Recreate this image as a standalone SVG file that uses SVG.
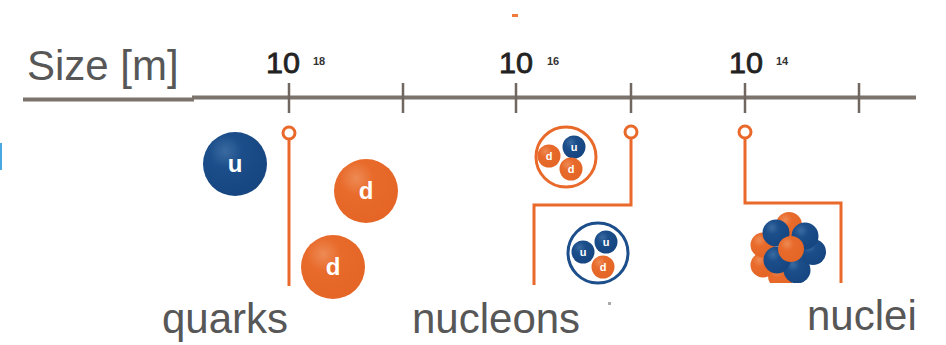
<svg xmlns="http://www.w3.org/2000/svg" width="946" height="345" viewBox="0 0 946 345">
  <defs>
    <radialGradient id="gBlue" cx="0.35" cy="0.3" r="0.75">
      <stop offset="0" stop-color="#3a6aa0"/>
      <stop offset="0.35" stop-color="#1b4e8a"/>
      <stop offset="1" stop-color="#164580"/>
    </radialGradient>
    <radialGradient id="gOrange" cx="0.35" cy="0.3" r="0.75">
      <stop offset="0" stop-color="#ee8a55"/>
      <stop offset="0.35" stop-color="#e86b2b"/>
      <stop offset="1" stop-color="#e46526"/>
    </radialGradient>
    <clipPath id="clipLow">
      <rect x="0" y="0" width="946" height="283"/>
    </clipPath>
  </defs>
  <style>
    .axis { stroke: #7b736c; stroke-width: 4; fill: none; }
    .tick { stroke: #6f6760; stroke-width: 2.5; fill: none; }
    .lead { stroke: #e8692a; stroke-width: 3; fill: none; }
    .marker { fill: #ffffff; stroke: #e8692a; stroke-width: 3; }
    .blue { fill: url(#gBlue); }
    .orange { fill: url(#gOrange); }
    .q { font-family: "Liberation Sans", Arial, sans-serif; font-weight: bold; fill: #ffffff; text-anchor: middle; }
    .lbl { font-family: "Liberation Sans", Arial, sans-serif; fill: #575757; }
    .tl { font-family: "Liberation Sans", Arial, sans-serif; fill: #222222; stroke: #222222; stroke-width: 0.8; }
    .sup { font-family: "Liberation Sans", Arial, sans-serif; fill: #333333; font-weight: bold; }
    .ring-o { fill: #ffffff; stroke: #e8692a; stroke-width: 3; }
    .ring-b { fill: #ffffff; stroke: #1b4e8a; stroke-width: 3; }
  </style>

  <rect width="946" height="345" fill="#ffffff"/>

  <!-- scale axis -->
  <g id="axis">
    <text class="lbl" x="27" y="80" font-size="42">Size [m]</text>
    <line class="axis" x1="23" y1="99.5" x2="194" y2="99.5"/>
    <line class="axis" x1="192" y1="97.5" x2="916" y2="97.5"/>
    <line class="tick" x1="289" y1="83" x2="289" y2="113"/>
    <line class="tick" x1="403" y1="83" x2="403" y2="113"/>
    <line class="tick" x1="516" y1="83" x2="516" y2="113"/>
    <line class="tick" x1="631" y1="83" x2="631" y2="113"/>
    <line class="tick" x1="745" y1="83" x2="745" y2="113"/>
    <line class="tick" x1="859" y1="83" x2="859" y2="113"/>
    <text class="tl" x="266" y="73" font-size="29" textLength="34" lengthAdjust="spacingAndGlyphs">10</text>
    <text class="sup" x="313" y="65" font-size="11">18</text>
    <text class="tl" x="499" y="73" font-size="29" textLength="34" lengthAdjust="spacingAndGlyphs">10</text>
    <text class="sup" x="547" y="65" font-size="11">16</text>
    <text class="tl" x="729" y="73" font-size="29" textLength="34" lengthAdjust="spacingAndGlyphs">10</text>
    <text class="sup" x="776" y="65" font-size="11">14</text>
  </g>

  <!-- stray marks -->
  <rect x="512" y="14" width="6" height="3" fill="#f07a3a"/>
  <rect x="0" y="143" width="2" height="27" fill="#4aa8e0"/>
  <rect x="608" y="302" width="3" height="3" fill="#aaaaaa"/>

  <!-- connectors -->
  <g id="connectors">
    <path class="lead" d="M289 138 V286"/>
    <path class="lead" d="M631 138 V205 H534 V285"/>
    <path class="lead" d="M745 138 V203 H841 V283"/>
    <circle class="marker" cx="289" cy="133" r="6"/>
    <circle class="marker" cx="631" cy="132" r="6"/>
    <circle class="marker" cx="745" cy="132" r="6"/>
  </g>

  <!-- quarks -->
  <g id="quarks">
    <circle class="blue" cx="235" cy="164" r="32"/>
    <text class="q" x="235" y="172" font-size="24">u</text>
    <circle class="orange" cx="366" cy="191" r="32"/>
    <text class="q" x="366" y="199" font-size="24">d</text>
    <circle class="orange" cx="333" cy="267" r="32"/>
    <text class="q" x="333" y="275" font-size="24">d</text>
    <text class="lbl" x="162" y="333" font-size="42">quarks</text>
  </g>

  <!-- nucleons -->
  <g id="nucleons">
    <circle class="ring-o" cx="566" cy="157" r="30"/>
    <circle class="blue" cx="574" cy="147" r="11.5"/>
    <text class="q" x="574" y="151" font-size="11">u</text>
    <circle class="orange" cx="549" cy="156" r="11.5"/>
    <text class="q" x="549" y="160" font-size="11">d</text>
    <circle class="orange" cx="571" cy="169" r="11.5"/>
    <text class="q" x="571" y="173" font-size="11">d</text>

    <circle class="ring-b" cx="598" cy="253" r="30"/>
    <circle class="blue" cx="583" cy="252" r="11.5"/>
    <text class="q" x="583" y="256" font-size="11">u</text>
    <circle class="blue" cx="606" cy="242" r="11.5"/>
    <text class="q" x="606" y="246" font-size="11">u</text>
    <circle class="orange" cx="603" cy="267" r="11.5"/>
    <text class="q" x="603" y="271" font-size="11">d</text>
    <text class="lbl" x="412" y="333" font-size="42">nucleons</text>
  </g>

  <!-- nuclei -->
  <g id="nuclei">
    <g clip-path="url(#clipLow)">
      <circle class="orange" cx="781" cy="276" r="13"/>
      <circle class="orange" cx="763" cy="265" r="12.5"/>
      <circle class="orange" cx="763" cy="245" r="12.5"/>
      <circle class="orange" cx="789" cy="225" r="13"/>
      <circle class="blue" cx="797" cy="270" r="13.5"/>
      <circle class="blue" cx="777" cy="260" r="13.5"/>
      <circle class="blue" cx="813" cy="252" r="13"/>
      <circle class="blue" cx="805" cy="236" r="13.5"/>
      <circle class="blue" cx="776" cy="233" r="13.5"/>
      <circle class="orange" cx="791" cy="249" r="13"/>
    </g>
    <text class="lbl" x="807" y="330" font-size="42">nuclei</text>
  </g>
</svg>
